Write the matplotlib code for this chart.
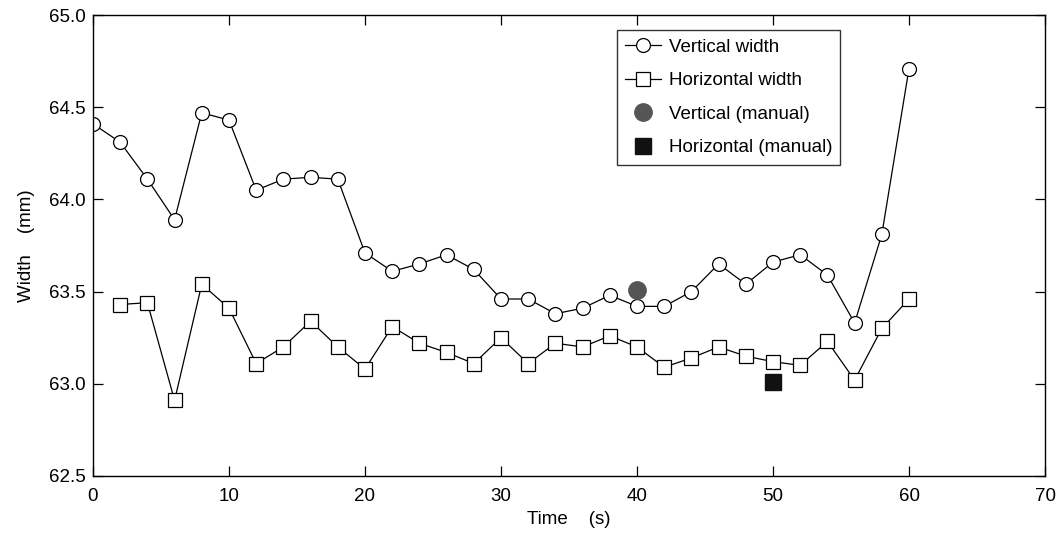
import matplotlib
matplotlib.use("Agg")
import matplotlib.pyplot as plt

plt.rcParams['font.family'] = ['Liberation Sans', 'DejaVu Sans']

# vertical width, every 2 s from 0 to 60
t_vert = [0, 2, 4, 6, 8, 10, 12, 14, 16, 18, 20, 22, 24, 26, 28, 30,
          32, 34, 36, 38, 40, 42, 44, 46, 48, 50, 52, 54, 56, 58, 60]
w_vert = [64.41, 64.31, 64.11, 63.89, 64.47, 64.43, 64.05, 64.11, 64.12, 64.11, 63.71,
          63.61, 63.65, 63.70, 63.62, 63.46, 63.46, 63.38, 63.41, 63.48, 63.42,
          63.42, 63.50, 63.65, 63.54, 63.66, 63.70, 63.59, 63.33, 63.81, 64.71]

# horizontal width, every 2 s from 2 to 60
t_horiz = [2, 4, 6, 8, 10, 12, 14, 16, 18, 20, 22, 24, 26, 28, 30,
           32, 34, 36, 38, 40, 42, 44, 46, 48, 50, 52, 54, 56, 58, 60]
w_horiz = [63.43, 63.44, 62.91, 63.54, 63.41, 63.11, 63.20, 63.34, 63.20, 63.08,
           63.31, 63.22, 63.17, 63.11, 63.25, 63.11, 63.22, 63.20, 63.26, 63.20,
           63.09, 63.14, 63.20, 63.15, 63.12, 63.10, 63.23, 63.02, 63.30, 63.46]

# manual measurements
t_vert_manual = [40]
w_vert_manual = [63.51]
t_horiz_manual = [50]
w_horiz_manual = [63.01]

fig, ax = plt.subplots(figsize=(10.59, 5.37), dpi=100)
fig.subplots_adjust(left=0.0878, right=0.9868, top=0.972, bottom=0.1136)

ax.plot(t_vert, w_vert, color='black', linewidth=0.9, marker='o', markersize=10,
        markerfacecolor='white', markeredgecolor='black', markeredgewidth=0.9,
        label='Vertical width')
ax.plot(t_horiz, w_horiz, color='black', linewidth=0.9, marker='s', markersize=10,
        markerfacecolor='white', markeredgecolor='black', markeredgewidth=0.9,
        label='Horizontal width')
ax.plot(t_vert_manual, w_vert_manual, linestyle='none', marker='o', markersize=12.5,
        color='#555555', label='Vertical (manual)')
ax.plot(t_horiz_manual, w_horiz_manual, linestyle='none', marker='s', markersize=12,
        color='#111111', label='Horizontal (manual)')

ax.set_xlim(0, 70)
ax.set_ylim(62.5, 65.0)
ax.set_xticks(range(0, 71, 10))
ax.set_yticks([62.5, 63.0, 63.5, 64.0, 64.5, 65.0])
ax.set_yticklabels(['62.5', '63.0', '63.5', '64.0', '64.5', '65.0'])
ax.tick_params(direction='in', length=7, width=0.9, top=True, right=True, labelsize=13.5)
ax.tick_params(axis='x', pad=9)
ax.tick_params(axis='y', pad=5)
for s in ax.spines.values():
    s.set_linewidth(1.0)

ax.set_xlabel('Time    (s)', fontsize=13.5, labelpad=4)
ax.set_ylabel('Width    (mm)', fontsize=13.5, labelpad=10)

leg = ax.legend(loc='upper left', bbox_to_anchor=(0.5504, 0.9675), borderaxespad=0,
                fontsize=13.5, fancybox=False, framealpha=1, edgecolor='#333333',
                handlelength=1.9, handletextpad=0.4, borderpad=0.45, labelspacing=0.88)
leg.get_frame().set_linewidth(1.0)

fig.savefig('out.png', dpi=100)
